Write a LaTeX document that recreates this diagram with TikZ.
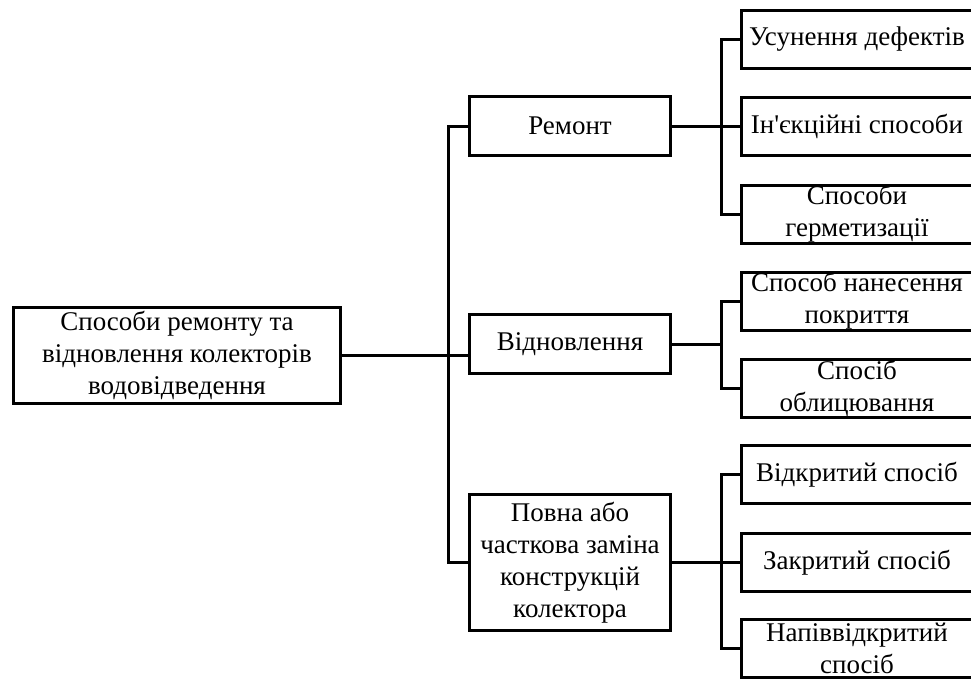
\documentclass[tikz,border=0pt]{standalone}
\usepackage{fontspec}
\setmainfont{Liberation Serif}
\begin{document}
\begin{tikzpicture}[x=1pt,y=-1pt,
  box/.style={draw, line width=3pt, align=center, inner sep=0pt, font=\fontsize{27}{32}\selectfont},
  rootbox/.style={box, minimum width=327pt, minimum height=96pt},
  midbox/.style={box, minimum width=201pt, minimum height=59pt},
  rightbox/.style={box, minimum width=231pt, minimum height=58pt},
  conn/.style={line width=3pt}]
\useasboundingbox (0,0) rectangle (971,678);
\node[rootbox] (root) at (177,355.5) {Способи ремонту та\\відновлення колекторів\\водовідведення};
\node[midbox] (rem) at (570,126) {Ремонт};
\node[midbox] (vid) at (570,344) {Відновлення};
\node[midbox, minimum height=136pt] (pov) at (570,562.5) {Повна або\\часткова заміна\\конструкцій\\колектора};
\node[rightbox] (r1) at (857,39.5) {Усунення дефектів};
\node[rightbox] (r2) at (857,126.5) {Ін\textquotesingle єкційні способи};
\node[rightbox] (r3) at (857,214) {Способи\\герметизації};
\node[rightbox] (v1) at (857,301) {Способ нанесення\\покриття};
\node[rightbox] (v2) at (857,388) {Спосіб\\облицювання};
\node[rightbox] (p1) at (857,474.5) {Відкритий спосіб};
\node[rightbox] (p2) at (857,562.5) {Закритий спосіб};
\node[rightbox] (p3) at (857,648.5) {Напіввідкритий\\спосіб};
\coordinate (tx) at (448,0);
\coordinate (rx) at (721,0);
\draw[conn] (root.east) -- (root.east -| vid.west);
\draw[conn] (rem.west) -| (tx |- pov.west) -- (pov.west);
\draw[conn] (rem.east) -- (rem.east -| rx);
\draw[conn] (r1.west) -| (rx |- r3.west) -- (r3.west);
\draw[conn] (r2.west) -- (r2.west -| rx);
\draw[conn] (vid.east) -- (vid.east -| rx);
\draw[conn] (v1.west) -| (rx |- v2.west) -- (v2.west);
\draw[conn] (pov.east) -- (pov.east -| rx);
\draw[conn] (p1.west) -| (rx |- p3.west) -- (p3.west);
\draw[conn] (p2.west) -- (p2.west -| rx);
\end{tikzpicture}
\end{document}
